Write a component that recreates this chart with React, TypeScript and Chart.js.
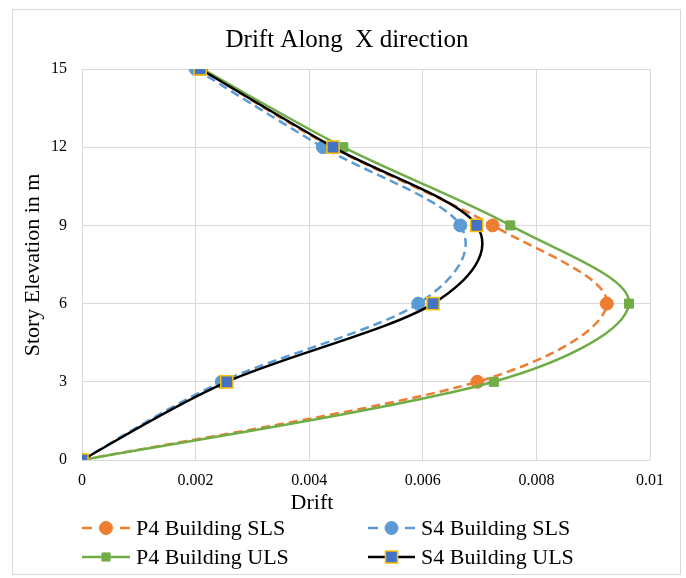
import React, { useEffect, useRef } from "react";
import { Chart, registerables } from "chart.js";
Chart.register(...registerables);

const elevations = [0, 3, 6, 9, 12, 15];
const p4SLS = [0, 0.00696, 0.00924, 0.00723, 0.0044, 0.0021];
const s4SLS = [0, 0.00246, 0.00592, 0.00666, 0.00424, 0.002];
const p4ULS = [0, 0.00725, 0.00963, 0.00754, 0.0046, 0.00212];
const s4ULS = [0, 0.00255, 0.00618, 0.00695, 0.00442, 0.00208];
const xTickValues = [0, 0.002, 0.004, 0.006, 0.008, 0.01];
const yTickValues = [0, 3, 6, 9, 12, 15];

const FONT = '"Liberation Serif", "Times New Roman", serif';

type Series = {
  label: string;
  values: number[];
  color: string;
  dash: number[];
  style: "circle" | "rect";
  radius: number;
  fill: string;
  border: string;
  borderW: number;
};

const series: Series[] = [
  { label: "P4 Building SLS", values: p4SLS, color: "#ED7D31", dash: [9, 5], style: "circle", radius: 6.5, fill: "#ED7D31", border: "#ED7D31", borderW: 1 },
  { label: "S4 Building SLS", values: s4SLS, color: "#5B9BD5", dash: [9, 5], style: "circle", radius: 6.5, fill: "#5B9BD5", border: "#5B9BD5", borderW: 1 },
  { label: "P4 Building ULS", values: p4ULS, color: "#70AD47", dash: [], style: "rect", radius: 6.4, fill: "#70AD47", border: "#70AD47", borderW: 1 },
  { label: "S4 Building ULS", values: s4ULS, color: "#000000", dash: [], style: "rect", radius: 8.6, fill: "#4472C4", border: "#FFC000", borderW: 1.5 },
];

const legendPos = [
  { x1: 82, x2: 130, y: 528 },
  { x1: 368, x2: 415, y: 528 },
  { x1: 82, x2: 130, y: 557 },
  { x1: 368, x2: 415, y: 557 },
];

function drawMarker(ctx: CanvasRenderingContext2D, s: Series, x: number, y: number, scale = 1) {
  ctx.save();
  ctx.setLineDash([]);
  ctx.fillStyle = s.fill;
  ctx.strokeStyle = s.border;
  ctx.lineWidth = s.borderW;
  ctx.beginPath();
  if (s.style === "circle") {
    ctx.arc(x, y, s.radius * scale, 0, Math.PI * 2);
  } else {
    const h = s.radius * Math.SQRT1_2 * scale;
    ctx.rect(x - h, y - h, 2 * h, 2 * h);
  }
  ctx.fill();
  ctx.stroke();
  ctx.restore();
}

// Excel-style smoothed scatter: Bezier control points with 1/6 tangent, capped at half the segment.
const excelSmooth = {
  id: "excelSmooth",
  afterDatasetsUpdate(chart: any) {
    chart.data.datasets.forEach((_: any, di: number) => {
      const meta = chart.getDatasetMeta(di);
      const pts = meta.data;
      const n = pts.length;
      const dist = (a: any, b: any) => Math.hypot(a.x - b.x, a.y - b.y);
      for (let i = 0; i < n - 1; i++) {
        const p1 = pts[i];
        const p2 = pts[i + 1];
        const p0 = i > 0 ? pts[i - 1] : p1;
        const p3 = i + 2 < n ? pts[i + 2] : p2;
        const d12 = dist(p1, p2);
        const d02 = dist(p0, p2);
        const d13 = dist(p1, p3);
        const f = d02 > 0 ? Math.min(1 / 6, d12 / (2 * d02)) : 0;
        const g = d13 > 0 ? Math.min(1 / 6, d12 / (2 * d13)) : 0;
        p1.cp2x = p1.x + (p2.x - p0.x) * f;
        p1.cp2y = p1.y + (p2.y - p0.y) * f;
        p2.cp1x = p2.x - (p3.x - p1.x) * g;
        p2.cp1y = p2.y - (p3.y - p1.y) * g;
      }
      if (n) {
        pts[0].cp1x = pts[0].x;
        pts[0].cp1y = pts[0].y;
        pts[n - 1].cp2x = pts[n - 1].x;
        pts[n - 1].cp2y = pts[n - 1].y;
      }
      if (meta.dataset) {
        meta.dataset._pointsUpdated = true;
        meta.dataset._path = undefined;
      }
    });
  },
};

const decor = {
  id: "decor",
  beforeDraw(chart: any) {
    const ctx: CanvasRenderingContext2D = chart.ctx;
    ctx.save();
    ctx.fillStyle = "#ffffff";
    ctx.fillRect(0, 0, chart.width, chart.height);
    ctx.strokeStyle = "#d9d9d9";
    ctx.lineWidth = 1;
    ctx.strokeRect(12.5, 9.5, 668, 565);
    ctx.restore();
  },
  afterDraw(chart: any) {
    const ctx: CanvasRenderingContext2D = chart.ctx;
    ctx.save();
    ctx.fillStyle = "#000";
    ctx.textAlign = "center";
    ctx.textBaseline = "middle";
    ctx.font = `25px ${FONT}`;
    ctx.fillText("Drift Along  X direction", 347, 40);
    ctx.font = `22px ${FONT}`;
    ctx.fillText("Drift", 312, 503);
    ctx.save();
    ctx.translate(33, 265);
    ctx.rotate(-Math.PI / 2);
    ctx.fillText("Story Elevation in m", 0, 0);
    ctx.restore();

    ctx.font = `22px ${FONT}`;
    ctx.textAlign = "left";
    series.forEach((s, i) => {
      const p = legendPos[i];
      const mid = (p.x1 + p.x2) / 2;
      ctx.save();
      ctx.strokeStyle = s.color;
      ctx.lineWidth = 2.5;
      ctx.beginPath();
      if (s.dash.length) {
        ctx.moveTo(p.x1, p.y);
        ctx.lineTo(p.x1 + 10, p.y);
        ctx.moveTo(p.x2 - 10, p.y);
        ctx.lineTo(p.x2, p.y);
      } else {
        ctx.moveTo(p.x1, p.y);
        ctx.lineTo(p.x2, p.y);
      }
      ctx.stroke();
      ctx.restore();
      drawMarker(ctx, s, mid, p.y, i === 2 ? 0.9 : 1);
      ctx.fillStyle = "#000";
      ctx.fillText(s.label, p.x2 + 6, p.y + 1);
    });
    ctx.restore();
  },
};

export default function App() {
  const ref = useRef<HTMLCanvasElement>(null);
  useEffect(() => {
    document.body.style.margin = "0";
    const canvas = ref.current!;
    const chart = new Chart(canvas, {
      type: "scatter",
      data: {
        datasets: series.map((s, i) => ({
          label: s.label,
          data: elevations.map((y, k) => ({ x: s.values[k], y })),
          showLine: true,
          borderColor: s.color,
          borderWidth: 2.5,
          borderDash: s.dash,
          tension: 0.4,
          pointStyle: s.style,
          pointRadius: s.radius,
          pointHoverRadius: s.radius,
          pointBackgroundColor: s.fill,
          pointBorderColor: s.border,
          pointBorderWidth: s.borderW,
          order: 3 - i,
        })),
      },
      options: {
        responsive: false,
        animation: false,
        events: [],
        layout: { padding: { top: 69, right: 36, left: 0, bottom: 0 } },
        plugins: {
          legend: { display: false },
          title: { display: false },
          tooltip: { enabled: false },
        },
        scales: {
          x: {
            type: "linear",
            min: 0,
            max: 0.01,
            afterBuildTicks: (s: any) => {
              s.ticks = xTickValues.map((v) => ({ value: v }));
            },
            afterFit: (s: any) => {
              s.height = 118;
            },
            ticks: {
              callback: (v: any) => String(+Number(v).toFixed(3)),
              font: { family: FONT, size: 16 },
              color: "#000",
              padding: 11,
              maxRotation: 0,
            },
            grid: { color: "#d9d9d9", lineWidth: 1, drawTicks: false },
            border: { display: false },
          },
          y: {
            type: "linear",
            min: 0,
            max: 15,
            afterBuildTicks: (s: any) => {
              s.ticks = yTickValues.map((v) => ({ value: v }));
            },
            afterFit: (s: any) => {
              s.width = 82;
            },
            ticks: {
              font: { family: FONT, size: 16 },
              color: "#000",
              padding: 15,
            },
            grid: { color: "#d9d9d9", lineWidth: 1, drawTicks: false },
            border: { display: false },
          },
        },
      },
      plugins: [excelSmooth, decor],
    } as any);
    return () => chart.destroy();
  }, []);
  return <canvas ref={ref} width={686} height={578} style={{ display: "block" }} />;
}
